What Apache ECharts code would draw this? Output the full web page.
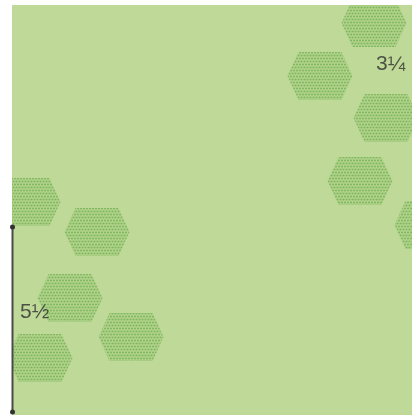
<!DOCTYPE html>
<html>
<head>
<meta charset="utf-8">
<script src="https://cdn.jsdelivr.net/npm/echarts@6/dist/echarts.min.js"></script>
<style>
html,body{margin:0;padding:0;background:#fff;}
#c{width:412px;height:415px;}
</style>
</head>
<body>
<div id="c"></div>
<script>
// Hexagon centres (chart coordinates = page pixels)
const hexX = [374, 320, 386, 360, 427, 28, 97, 70, 131, 40];
const hexY = [23, 76, 118, 181, 225, 202, 232, 298, 337, 358];
// Measure line ends
const measureX = [12.5, 12.5];
const measureY = [227, 412];
// Labels
const labelText = ['5\u00BD', '3\u00BC'];
const labelX = [20, 376];
const labelY = [312, 64];

const BG = '#bfd998';
const DOT = '#7fb85e';

function makePattern() {
  const c = document.createElement('canvas');
  c.width = 6; c.height = 6;
  const g = c.getContext('2d');
  g.fillStyle = '#b3d38d';
  g.fillRect(0, 0, 6, 6);
  g.fillStyle = DOT;
  const pts = [[1.5,1.5],[4.5,1.5],[0,4.5],[3,4.5],[6,4.5]];
  pts.forEach(p => { g.beginPath(); g.arc(p[0], p[1], 1.05, 0, Math.PI*2); g.fill(); });
  return c;
}
const pattern = makePattern();

const chart = echarts.init(document.getElementById('c'), null, {renderer: 'canvas'});
const hexData = hexX.map((x, i) => [x, hexY[i]]);
const lineData = measureX.map((x, i) => [x, measureY[i]]);
const labData = labelText.map((t, i) => ({value: [labelX[i], labelY[i]], name: t}));

const HW = 32.5, HH = 24, SL = 11;

chart.setOption({
  animation: false,
  backgroundColor: '#ffffff',
  grid: {left: 12, top: 5, right: 0, bottom: 0, show: true, backgroundColor: BG, borderWidth: 0},
  xAxis: {type: 'value', min: 12, max: 412, show: false},
  yAxis: {type: 'value', min: 5, max: 415, inverse: true, show: false},
  graphic: [
    {type: 'rect', z: 100, shape: {x: 0, y: 0, width: 12, height: 415}, style: {fill: '#ffffff'}},
    {type: 'rect', z: 100, shape: {x: 0, y: 0, width: 412, height: 5}, style: {fill: '#ffffff'}}
  ],
  series: [
    {
      type: 'custom',
      clip: false,
      z: 2,
      silent: true,
      data: hexData,
      renderItem: function (params, api) {
        const c = api.coord([api.value(0), api.value(1)]);
        const x = c[0], y = c[1];
        return {
          type: 'polygon',
          shape: {points: [
            [x - HW, y], [x - HW + SL, y - HH], [x + HW - SL, y - HH],
            [x + HW, y], [x + HW - SL, y + HH], [x - HW + SL, y + HH]
          ]},
          style: {fill: {image: pattern, repeat: 'repeat'}, stroke: null}
        };
      }
    },
    {
      type: 'line',
      clip: false,
      z: 300,
      data: lineData,
      symbol: 'circle',
      symbolSize: 5,
      showAllSymbol: true,
      lineStyle: {color: '#4a4a4a', width: 2},
      itemStyle: {color: '#333333'},
      silent: true
    },
    {
      type: 'scatter',
      z: 50,
      clip: false,
      symbolSize: 0,
      data: labData,
      label: {
        show: true,
        position: 'right',
        distance: 0,
        formatter: p => p.name,
        color: '#2e2e2e',
        fontSize: 21,
        fontFamily: 'Liberation Sans, Arial, sans-serif'
      },
      silent: true
    }
  ]
});
</script>
</body>
</html>
